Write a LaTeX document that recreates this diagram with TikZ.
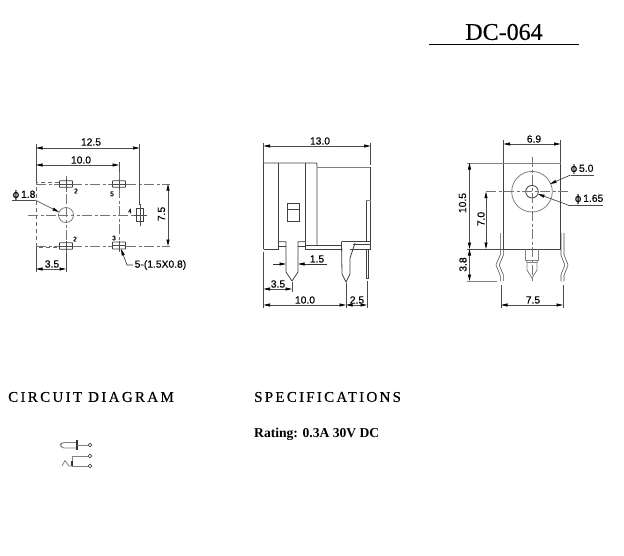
\documentclass[tikz,border=0pt]{standalone}
\usepackage{fontspec}
\setmainfont{Liberation Sans}[FakeBold=0.35]
\newfontfamily\serifface{Liberation Serif}[FakeBold=0.3]
\newfontfamily\serifstrong{Liberation Serif}
\newfontfamily\symface{DejaVu Sans}[FakeBold=0.35]
\usetikzlibrary{arrows.meta}
\newcommand{\phisym}{{\symface\char"03D5}}
\tikzset{
  x=1pt,y=-1pt,
  outline/.style={line width=0.8pt,draw=black!75},
  soft/.style={line width=0.8pt,draw=black!50},
  dim/.style={line width=0.6pt,draw=black!70,{Stealth[length=6.5pt,width=3pt,inset=0pt,black]}-{Stealth[length=6.5pt,width=3pt,inset=0pt,black]}},
  ext/.style={line width=0.6pt,draw=black!70},
  lead/.style={line width=0.6pt,draw=black!80,-{Stealth[length=6.5pt,width=3pt,inset=0pt,black]}},
  center/.style={line width=0.6pt,draw=black!55,dash pattern=on 10pt off 2.5pt on 3pt off 2.5pt},
  dashbox/.style={line width=0.6pt,draw=black!60,dash pattern=on 4pt off 3pt},
  lab/.style={inner sep=0pt,font=\fontsize{10.3}{12}\selectfont,text=black},
  tiny/.style={inner sep=0pt,font=\fontsize{6.5}{8}\selectfont,text=black},
  head/.style={inner sep=0pt,anchor=west,font=\serifface\fontsize{15}{17}\selectfont,text=black},
  spring/.style={line width=0.7pt,draw=black!70,double=white,double distance=2.2pt,line join=round},
  term/.style={circle,draw=black!70,line width=0.7pt,fill=white,inner sep=0pt,minimum size=3.6pt},
}
\begin{document}
\begin{tikzpicture}
\useasboundingbox[fill=white] (0,0) rectangle (624,555);
% title
\node[inner sep=0pt,font=\serifface\fontsize{24}{26}\selectfont] (title) at (504,32) {DC-064};
\draw[line width=1.1pt] (429,44.5) -- (579,44.5);

% ---------- left view ----------
\draw[dashbox] (66,182) -- (36,182) -- (36,247) -- (60,247);
\draw[center] (36,184) -- (170,184);
\draw[center] (36,246) -- (170,246);
\draw[center] (28,215) -- (148,215);
\draw[center] (66,176) -- (66,253);
\draw[center] (119,170) -- (119,252);
\draw[soft,fill=white] (66,215) circle (7.5);
\draw[center] (58,215) -- (74,215); \draw[center] (66,207) -- (66,223);
\foreach \n/\px/\py/\w/\h in {pa/66/184/13/6.5,pb/119/184/13/6.5,pc/66/246/13/6.5,pd/119/245.5/13/7}{
  \draw[outline,fill=white,rounded corners=0.5pt] (\px-\w/2,\py-\h/2) rectangle (\px+\w/2,\py+\h/2);
  \draw[ext] (\px,\py-5) -- (\px,\py+5);
  \draw[ext] (\px-7,\py) -- (\px+7,\py);
}
\draw[outline,fill=white] (136.7,208) rectangle (143.3,221);
\draw[ext] (140,204) -- (140,226); \draw[ext] (134,215) -- (147,215);
\draw[ext] (36,144) -- (36,182);
\draw[ext] (36,247) -- (36,272);
\draw[ext] (139.5,144) -- (139.5,205);
\draw[ext] (66,253) -- (66,272);
\draw[dim] (36,148) -- (139.5,148);
\draw[dim] (36,165) -- (119,165);
\draw[ext] (119,162) -- (119,172);
\draw[dim] (168,184) -- (168,246);
\draw[dim] (36,269) -- (66,269);
\node[lab] (a125) at (91,142) {12.5};
\node[lab] (a100) at (81,160) {10.0};
\node[lab,rotate=90] (a75) at (161.5,214) {7.5};
\node[lab] (a35) at (52,264) {3.5};
\node[lab] (aphi) at (24,195) {\phisym\,1.8};
\draw[ext] (12,200) -- (35,200);
\draw[lead] (35,200) -- (59,212);
\node[lab,anchor=west] (apad) at (134.5,265) {5-(1.5X0.8)};
\draw[lead] (133,265) -- (127,265) -- (121,249);
\node[tiny] (n2a) at (76,191) {2};
\node[tiny] (n5) at (112,194) {5};
\node[tiny] (n4) at (130,211) {4};
\node[tiny] (n2b) at (75,239) {2};
\node[tiny] (n3) at (114,238) {3};

% ---------- middle view ----------
\draw[outline] (263.5,249) -- (263.5,163) -- (316,163) -- (317,164) -- (317,246);
\draw[soft] (317,167) -- (370.5,167);
\draw[outline] (370.5,167) -- (370.5,249);
\draw[outline] (263.5,249) -- (278.5,249) -- (278.5,163);
\draw[outline] (305.5,163) -- (305.5,249) -- (341,249);
\draw[outline] (305.5,245.5) -- (341,245.5);
\draw[outline] (366,200) -- (366,242);
\draw[soft] (366,200) -- (370.5,200);
\draw[outline] (287.5,203) rectangle (299.5,221);
\draw[outline] (287.5,209) -- (299.5,209);
\draw[outline] (278.5,241.7) -- (286,241.7) -- (286,272) -- (292,281) -- (298,272) -- (298,241.7) -- (305.5,241.7);
\draw[outline] (278.5,246) -- (286,246);
\draw[outline] (298,246) -- (305.5,246);
\draw[outline] (341.5,241.7) -- (355,241.7);
\draw[outline] (341.5,241.7) -- (342,274) -- (346,282) -- (350,274) -- (350,258) -- (355,243);
\draw[outline] (355,241.7) -- (370.5,241.7);
\draw[outline] (353,244.5) -- (370.5,244.5);
\draw[outline] (350,249) -- (370.5,249);
\draw[outline] (366,249) -- (366,278) -- (368,278) -- (368,249);
\draw[ext] (263,143) -- (263,163);
\draw[ext] (370.5,143) -- (370.5,165);
\draw[dim] (263.5,146) -- (370.5,146);
\node[lab] (b130) at (320,141) {13.0};
\draw[ext] (263.5,252) -- (263.5,308);
\draw[ext] (292,282) -- (292,292);
\draw[ext] (346,283) -- (346,308);
\draw[ext] (367,281) -- (367,308);
\draw[dim] (263.5,289) -- (292,289);
\draw[dim] (263.5,305) -- (346,305);
\draw[{Stealth[length=6.5pt,width=3pt,inset=0pt,black]}-{Stealth[length=6.5pt,width=3pt,inset=0pt,black]},ext] (346,305) -- (367,305);
\draw[lead] (273,264) -- (286,264);
\draw[lead] (327,264) -- (298,264);
\node[lab] (b15) at (317,259) {1.5};
\node[lab] (b35) at (278,284) {3.5};
\node[lab] (b100) at (305,300) {10.0};
\node[lab] (b25) at (357,300) {2.5};

% ---------- right view ----------
\draw[outline] (503.5,249) -- (503.5,163);
\draw[outline] (560.5,163) -- (560.5,249);
\draw[soft] (503.5,163) -- (560.5,163);
\draw[outline] (503.5,249) -- (560.5,249);
\draw[soft] (532,191.7) circle (20.3);
\draw[outline] (532,191.7) circle (6.3);
\draw[center] (486,191.7) -- (568,191.7);
\draw[center] (532,157) -- (532,283);
\draw[spring] (501.8,233) -- (501.8,255) -- (497.5,265) -- (501.8,275) -- (501.8,281);
\draw[spring] (562.5,233) -- (562.5,255) -- (566.5,265) -- (562.5,275) -- (562.5,281);
\draw[soft] (525.5,249) -- (525.5,260) -- (527,262) -- (527,270) -- (532,278) -- (537,270) -- (537,262) -- (538.5,260) -- (538.5,249);
\draw[soft] (525.5,260) -- (538.5,260);
\draw[soft] (527,262) -- (537,262);
\draw[ext] (503.5,140) -- (503.5,163);
\draw[ext] (560.5,140) -- (560.5,163);
\draw[dim] (503.5,144) -- (560.5,144);
\node[lab] (c69) at (534,139) {6.9};
\draw[soft] (467,163) -- (503.5,163);
\draw[ext] (467,249) -- (503.5,249);
\draw[soft] (467,281) -- (497,281);
\draw[dim] (469.5,163) -- (469.5,249);
\draw[dim] (469.5,249) -- (469.5,281);
\draw[dim] (486,191.7) -- (486,249);
\node[lab,rotate=90] (c105) at (462.5,203) {10.5};
\node[lab,rotate=90] (c70) at (481,219) {7.0};
\node[lab,rotate=90] (c38) at (463,264.5) {3.8};
\node[lab] (cphia) at (582,169) {\phisym\,5.0};
\draw[ext] (570.5,175) -- (594,175);
\draw[lead] (570.5,175) -- (550,184);
\node[lab] (cphib) at (589,199) {\phisym\,1.65};
\draw[ext] (568,205) -- (603,205);
\draw[lead] (568,205) -- (538,194);
\draw[ext] (501,285) -- (501,308);
\draw[ext] (563,285) -- (563,308);
\draw[dim] (501,305) -- (563,305);
\node[lab] (c75) at (533,300) {7.5};

% ---------- headings ----------
\node[head] (hc) at (8,397) {\addfontfeature{LetterSpace=15.5}CIRCUIT DIAGRAM};
\node[head] (hs) at (254,397) {\addfontfeature{LetterSpace=15}SPECIFICATIONS};
\node[inner sep=0pt,anchor=west,font=\serifstrong\bfseries\fontsize{13.6}{15}\selectfont] (rate) at (254,434.5) {Rating: 0.3A 30V DC};

% ---------- circuit symbol ----------
\node[term] (t1) at (90,445) {};
\node[term] (t2) at (90,456) {};
\node[term] (t3) at (90,466) {};
\coordinate (bar) at (77,445);
\coordinate (sw) at (72,466);
\draw[soft,rounded corners=2pt] (bar |- 0,442.5) -- (62,442.5) -- (60,445) -- (62,448) -- (bar |- 0,448);
\draw[line width=1.1pt,black!80] (77,440) -- (77,450);
\draw[soft] (bar) -- (t1);
\draw[soft] (t2) -- (72,456) -- (sw);
\draw[line width=1.1pt,black!80] (72,461) -- (sw);
\draw[soft] (sw) -- (t3);
\draw[soft] (62,466) -- (65,460.5) -- (69,466) -- (sw);
\end{tikzpicture}
\end{document}
